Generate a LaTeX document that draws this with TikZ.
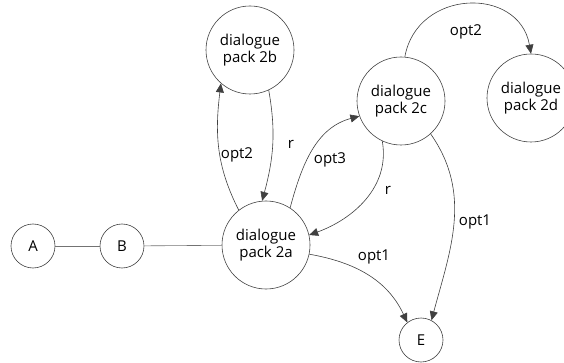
\documentclass[tikz,border=0pt]{standalone}
\usepackage{fontspec}
\setmainfont{Open Sans}
\usetikzlibrary{arrows.meta}
\begin{document}
\begin{tikzpicture}[x=1pt,y=-1pt,
  state/.style={circle,draw=black!75,line width=0.6pt,minimum size=88pt,inner sep=0pt,
    align=center,font=\fontsize{15}{17}\selectfont},
  small/.style={state,minimum size=44pt},
  link/.style={draw=black!55,line width=0.6pt},
  trans/.style={draw=black!75,line width=0.6pt,-{Triangle[length=9pt,width=8pt]}},
  lbl/.style={font=\fontsize{15}{17}\selectfont,inner sep=0pt}]
\useasboundingbox (0,0) rectangle (564,363);

% states
\node[small] (A) at (33,246) {A};
\node[small] (B) at (122,246) {B};
\node[state] (p2a) at (266,245) {dialogue\\pack 2a};
\node[state] (p2b) at (250,50) {dialogue\\pack 2b};
\node[state] (p2c) at (401,101) {dialogue\\pack 2c};
\node[state] (p2d) at (531,98) {dialogue\\pack 2d};
\node[small] (E) at (421,340) {E};

% plain links
\draw[link] (A) -- (B);
\draw[link] (B) -- (p2a);

% transitions
\draw[trans] (p2a.128) to[out=117,in=263] (p2b.229);
\draw[trans] (p2b.295) to[out=-80,in=75] (p2a.95);
\draw[trans] (p2a.57) to[out=75,in=195] (p2c.200);
\draw[trans] (p2c.245) to[out=-80,in=20] (p2a.13);
\draw[trans] (p2c.-48) to[out=-55,in=75] (E.62);
\draw[trans] (p2a.-12) to[out=-10,in=115] (E.128);
\draw[trans] (p2c.85) to[out=80,in=100,looseness=1.4] (p2d.90);

% transition labels
\node[lbl] (l1) at (237,155) {opt2};
\node[lbl] (l2) at (291,144) {r};
\node[lbl] (l3) at (330,160) {opt3};
\node[lbl] (l4) at (388,190) {r};
\node[lbl] (l5) at (475,222) {opt1};
\node[lbl] (l6) at (374,257) {opt1};
\node[lbl] (l7) at (466,32) {opt2};
\end{tikzpicture}
\end{document}
